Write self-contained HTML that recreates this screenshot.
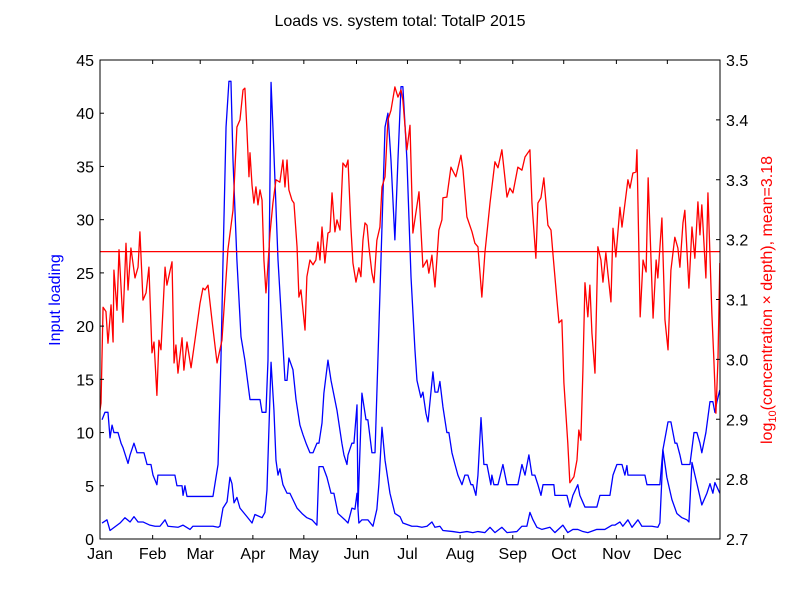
<!DOCTYPE html>
<html><head><meta charset="utf-8"><style>
html,body{margin:0;padding:0;background:#fff}
svg{display:block;font-family:"Liberation Sans","DejaVu Sans",sans-serif}
</style></head><body>
<svg id="chart" width="800" height="600" viewBox="0 0 800 600" xmlns="http://www.w3.org/2000/svg">
<rect x="0" y="0" width="800" height="600" fill="#fff"/>
<text x="400" y="26" text-anchor="middle" font-size="16">Loads vs. system total: TotalP 2015</text>
<text transform="translate(60,300) rotate(-90)" text-anchor="middle" font-size="16" fill="#0000ff">Input loading</text>
<text transform="translate(772,300) rotate(-90)" text-anchor="middle" font-size="16" fill="#ff0000">log<tspan font-size="11" dy="4">10</tspan><tspan dy="-4">(concentration × depth), mean=3.18</tspan></text>
<defs><clipPath id="plotclip"><rect x="100" y="60" width="620" height="479"/></clipPath></defs>
<g id="marks" clip-path="url(#plotclip)"></g>
<g id="axes"></g>
</svg>
<script>
const monthLabels = ["Jan","Feb","Mar","Apr","May","Jun","Jul","Aug","Sep","Oct","Nov","Dec"];
const monthStartDays = [0,31,59,90,120,151,181,212,243,273,304,334];
const leftTicks = [0,5,10,15,20,25,30,35,40,45];
const rightTicks = [2.7,2.8,2.9,3.0,3.1,3.2,3.3,3.4,3.5];
const concMean = 3.18;

const concDays = [0,0.6,1.8,3.5,4.7,6.5,7.7,8.2,10.0,11.2,13.5,15.3,16.5,18.2,20.6,22.4,23.5,25.3,27.1,28.8,30.6,31.8,33.5,34.7,35.9,38.3,39.4,42.4,43.6,44.7,45.9,48.3,49.4,51.2,53.6,55.9,58.9,60.6,61.8,63.6,65.9,68.9,71.8,75.3,78.3,80.6,82.4,84.2,85.3,86.5,87.7,88.3,89.5,90.6,91.8,93.0,94.2,95.4,96.5,97.7,98.3,100.1,101.8,103.6,105.9,107.7,108.9,110.1,111.2,113.0,114.2,116.0,117.1,118.3,120.7,121.8,123.6,125.4,127.1,128.3,129.5,130.7,132.4,134.2,135.4,136.6,138.3,139.5,141.3,143.0,144.8,146.0,147.7,148.9,150.7,152.4,153.6,154.8,156.0,157.2,158.3,160.1,161.3,163.0,164.8,166.0,167.8,169.5,171.3,173.6,175.4,177.2,178.3,180.7,182.5,184.2,187.8,190.1,192.5,193.6,195.4,197.2,199.5,201.3,201.9,204.2,206.6,209.5,212.5,213.7,216.0,219.0,220.7,222.5,224.8,226.6,229.6,232.5,234.3,236.6,239.6,241.3,243.1,246.0,248.4,250.2,253.1,254.3,256.6,257.8,259.6,261.3,263.7,265.5,266.6,269.0,270.2,271.9,273.1,275.4,276.6,279.0,280.8,281.9,283.1,284.3,285.5,287.2,288.4,289.6,291.4,293.1,294.9,296.1,297.8,299.0,300.8,302.0,303.7,306.1,307.3,310.8,312.0,313.7,315.5,316.1,318.0,319.7,321.5,322.7,325.6,327.4,328.4,330.8,332.6,334.4,336.1,338.4,340.2,341.4,343.2,344.3,346.7,348.5,350.2,352.0,353.2,354.3,356.7,357.9,360.2,361.4,362.6,363.8,364.9];
const concValues = [2.915,2.927,3.087,3.08,3.027,3.091,3.029,3.149,3.082,3.183,3.062,3.194,3.116,3.186,3.136,3.154,3.213,3.099,3.111,3.154,3.011,3.029,2.94,3.032,3.016,3.154,3.124,3.163,2.994,3.024,2.977,3.036,2.982,3.029,2.986,3.032,3.094,3.119,3.116,3.124,3.066,2.994,3.032,3.183,3.249,3.388,3.4,3.45,3.453,3.383,3.305,3.345,3.291,3.261,3.288,3.258,3.283,3.266,3.166,3.111,3.133,3.211,3.261,3.3,3.296,3.333,3.288,3.333,3.283,3.266,3.261,3.188,3.104,3.116,3.049,3.138,3.166,3.158,3.166,3.196,3.166,3.221,3.161,3.211,3.213,3.278,3.213,3.233,3.216,3.328,3.321,3.333,3.221,3.161,3.129,3.153,3.138,3.199,3.228,3.224,3.188,3.144,3.128,3.199,3.221,3.288,3.305,3.4,3.416,3.455,3.438,3.45,3.433,3.35,3.391,3.211,3.28,3.154,3.166,3.144,3.174,3.121,3.216,3.233,3.27,3.271,3.321,3.305,3.341,3.316,3.238,3.213,3.194,3.188,3.104,3.178,3.261,3.33,3.32,3.35,3.271,3.286,3.278,3.321,3.316,3.338,3.35,3.261,3.169,3.261,3.27,3.303,3.224,3.216,3.178,3.099,3.061,3.066,2.961,2.86,2.794,2.804,2.832,2.882,2.865,2.982,3.128,3.071,3.124,3.044,2.977,3.188,3.166,3.129,3.178,3.144,3.096,3.219,3.171,3.254,3.221,3.3,3.286,3.311,3.313,3.35,3.071,3.166,3.146,3.303,3.069,3.166,3.136,3.236,3.066,3.016,3.149,3.204,3.186,3.154,3.228,3.249,3.119,3.221,3.169,3.263,3.208,3.258,3.136,3.278,3.077,2.999,2.91,2.999,3.161];

const loadADays = [1.2,2.9,4.7,5.9,7.1,8.2,10.6,12.4,13.5,16.5,17.7,20.0,21.8,25.9,27.7,30.0,31.2,33.5,34.1,44.1,45.3,48.3,48.9,50.0,51.2,61.8,66.5,67.7,69.5,71.2,72.4,74.2,75.9,77.1,78.3,80.6,83.0,85.3,88.3,94.2,95.4,97.7,98.9,100.7,101.8,104.8,107.1,108.9,110.1,111.2,113.6,115.4,117.7,119.5,121.3,123.6,125.4,127.7,128.9,130.7,131.8,134.2,136.0,139.5,142.4,143.6,145.4,146.0,148.3,149.5,151.3,151.9,153.0,154.2,156.6,157.7,160.1,161.9,163.6,166.0,167.8,169.5,171.3,173.6,175.4,177.2,178.3,180.7,183.1,185.4,186.6,188.9,190.1,191.9,193.1,196.0,197.2,198.9,200.1,201.9,204.2,205.4,207.2,209.0,210.7,213.1,214.8,216.6,218.4,219.5,221.3,222.5,224.3,226.0,227.8,229.0,230.1,230.7,231.9,234.3,237.2,239.6,244.3,246.0,248.4,250.2,252.5,254.3,256.0,257.8,259.6,260.8,267.2,267.8,274.9,276.6,278.4,281.3,282.5,285.5,292.5,294.3,300.2,302.0,304.3,307.3,309.0,310.2,310.8,320.8,322.0,329.6,331.4,334.4,336.1,338.5,339.6,341.4,342.6,347.3,349.7,351.4,353.2,354.3,356.7,359.1,360.8,362.0,363.2,364.9];
const loadAValues = [11.2,11.9,11.9,9.5,10.7,10.0,10.0,9.0,8.6,7.1,7.9,9.0,8.1,8.1,7.0,7.0,6.0,5.1,6.0,6.0,5.0,5.0,4.1,5.0,4.0,4.0,4.0,5.2,7.0,16.8,26,38.7,43,43,35.6,26.2,19,16.8,13.1,13.1,11.9,11.9,16.8,42.9,38.7,26.2,19.9,14.9,14.9,17.0,15.9,13.1,10.7,9.8,9.0,8.1,8.1,9.0,9.0,10.9,13.7,16.8,14.9,12.1,9.0,7.9,7.0,7.9,9.0,9.0,12.6,3.0,8.1,13.7,11.2,11.2,8.1,8.1,16.8,29.3,38.7,40,35.6,28.1,35.6,42.5,42.5,35.6,24.6,17.8,14.9,13.3,13.8,11.8,11.0,15.7,13.8,13.8,14.8,12.4,10.0,10.0,8.1,7.0,6.0,5.1,6.0,6.0,5.1,5.1,4.1,6.0,11.4,7.0,7.0,6.0,5.1,6.0,5.1,5.1,7.0,5.1,5.1,5.1,7.0,6.0,7.9,6.0,6.0,5.1,4.1,5.1,5.1,4.1,4.1,3.0,4.1,5.1,4.1,3.0,3.0,4.1,4.1,6.0,7.0,7.0,6.0,6.9,6.0,6.0,5.1,5.1,8.4,11.0,11.0,9.0,9.0,7.9,7.0,7.0,10.0,10.0,9.0,8.1,10.0,12.9,12.9,11.9,12.9,14.0];

const loadBDays = [1.2,4.1,5.9,11.8,14.7,17.7,20.0,22.4,25.3,29.4,32.4,35.3,38.3,40.0,45.9,48.9,53.0,54.7,61.8,66.5,69.5,70.6,72.4,74.8,76.5,77.7,78.9,80.6,82.4,86.5,89.5,91.2,95.4,97.1,98.3,100.7,102.4,103.6,104.8,105.9,107.7,110.1,111.8,113.6,116.0,118.9,121.8,124.8,127.7,128.9,131.3,133.6,136.0,137.7,140.1,144.2,146.0,148.3,150.1,151.3,152.4,154.2,157.7,160.7,163.0,164.2,166.0,167.8,170.7,173.6,176.6,178.3,183.6,186.6,189.5,192.5,195.4,197.2,200.1,201.9,207.8,211.9,216.0,219.5,222.5,226.6,229.6,232.5,236.6,239.6,245.4,248.4,251.3,253.1,254.9,257.2,260.2,264.9,267.8,272.5,275.4,278.4,281.3,284.3,287.2,292.5,297.2,301.4,303.1,306.1,307.8,310.8,313.2,316.7,319.0,324.9,328.4,329.6,330.8,331.4,333.7,336.7,339.6,342.6,345.5,346.7,348.5,351.4,354.3,357.3,359.1,360.8,362.0,364.9];
const loadBValues = [1.5,1.8,0.8,1.5,2.0,1.6,2.1,1.6,1.6,1.3,1.2,1.2,1.8,1.2,1.1,1.3,0.9,1.2,1.2,1.2,1.1,1.2,2.9,3.5,5.8,5.2,3.4,3.9,2.9,2.1,1.5,2.3,2.0,2.5,4.6,16.6,12.1,7.4,6.0,6.6,5.1,4.3,4.3,3.7,2.9,2.4,2.0,1.8,1.3,6.8,6.8,5.8,4.3,4.3,2.4,1.8,1.5,2.9,2.8,4.3,1.5,1.8,1.8,1.2,2.8,5.2,10.5,7.4,4.3,2.4,2.1,1.5,1.2,1.2,1.1,1.2,1.6,1.1,1.2,0.8,0.7,0.6,0.7,0.6,0.7,0.6,1.1,0.6,1.1,0.6,0.7,1.2,1.2,2.5,1.8,1.1,0.9,1.1,0.6,1.3,0.6,0.9,0.9,0.7,0.6,0.9,0.9,1.3,1.3,1.6,1.2,1.8,1.1,1.8,1.2,1.2,1.1,1.5,5.8,8.4,5.8,3.7,2.4,2.0,1.8,1.6,7.2,5.2,3.2,4.3,5.2,4.3,5.3,4.3];

const X0=100,X1=720,YT=60,YB=539;
function xScale(d){return X0+d*(X1-X0)/365;}
function yLeft(v){return YB-v*(YB-YT)/45;}
function yRight(v){return YB-(v-2.7)*(YB-YT)/0.8;}
const NS="http://www.w3.org/2000/svg";
const marks=document.getElementById('marks');
const axes=document.getElementById('axes');
function mk(tag,attrs,parent){const e=document.createElementNS(NS,tag);for(const k in attrs)e.setAttribute(k,attrs[k]);parent.appendChild(e);return e;}
function pts(days,vals,yf){return days.map((d,i)=>xScale(d).toFixed(2)+","+yf(vals[i]).toFixed(2)).join(" ");}

const lineA=mk('polyline',{points:pts(loadADays,loadAValues,yLeft),fill:'none',stroke:'#0000ff','stroke-width':1.3,'stroke-linejoin':'round'},marks);


const lineB=mk('polyline',{points:pts(loadBDays,loadBValues,yLeft),fill:'none',stroke:'#0000ff','stroke-width':1.3,'stroke-linejoin':'round'},marks);


const lineC=mk('polyline',{points:pts(concDays,concValues,yRight),fill:'none',stroke:'#ff0000','stroke-width':1.3,'stroke-linejoin':'round'},marks);


const meanLine=mk('line',{x1:X0,x2:X1,y1:yRight(concMean),y2:yRight(concMean),stroke:'#ff0000','stroke-width':1.3},marks);



const frame=mk('rect',{x:X0,y:YT,width:X1-X0,height:YB-YT,fill:'none',stroke:'#000','stroke-width':1},axes);



monthStartDays.forEach((d,i)=>{
  const x=xScale(d);
  const t1=mk('line',{x1:x,x2:x,y1:YB,y2:YB-4,stroke:'#000'},axes);
  
  
  const t2=mk('line',{x1:x,x2:x,y1:YT,y2:YT+4,stroke:'#000'},axes);
  
  
  const lb=mk('text',{x:x,y:YB+20,'text-anchor':'middle','font-size':16},axes);
  lb.textContent=monthLabels[i];
  
  
});
leftTicks.forEach(v=>{
  const y=yLeft(v);
  const t=mk('line',{x1:X0,x2:X0+4,y1:y,y2:y,stroke:'#000'},axes);
  
  
  const lb=mk('text',{x:X0-6,y:y+6,'text-anchor':'end','font-size':16},axes);
  lb.textContent=String(v);
  
  
});
rightTicks.forEach(v=>{
  const y=yRight(v);
  const t=mk('line',{x1:X1,x2:X1-4,y1:y,y2:y,stroke:'#000'},axes);
  
  
  const lb=mk('text',{x:X1+6,y:y+6,'text-anchor':'start','font-size':16},axes);
  lb.textContent=v.toFixed(1);
  
  
});
</script>
</body></html>
